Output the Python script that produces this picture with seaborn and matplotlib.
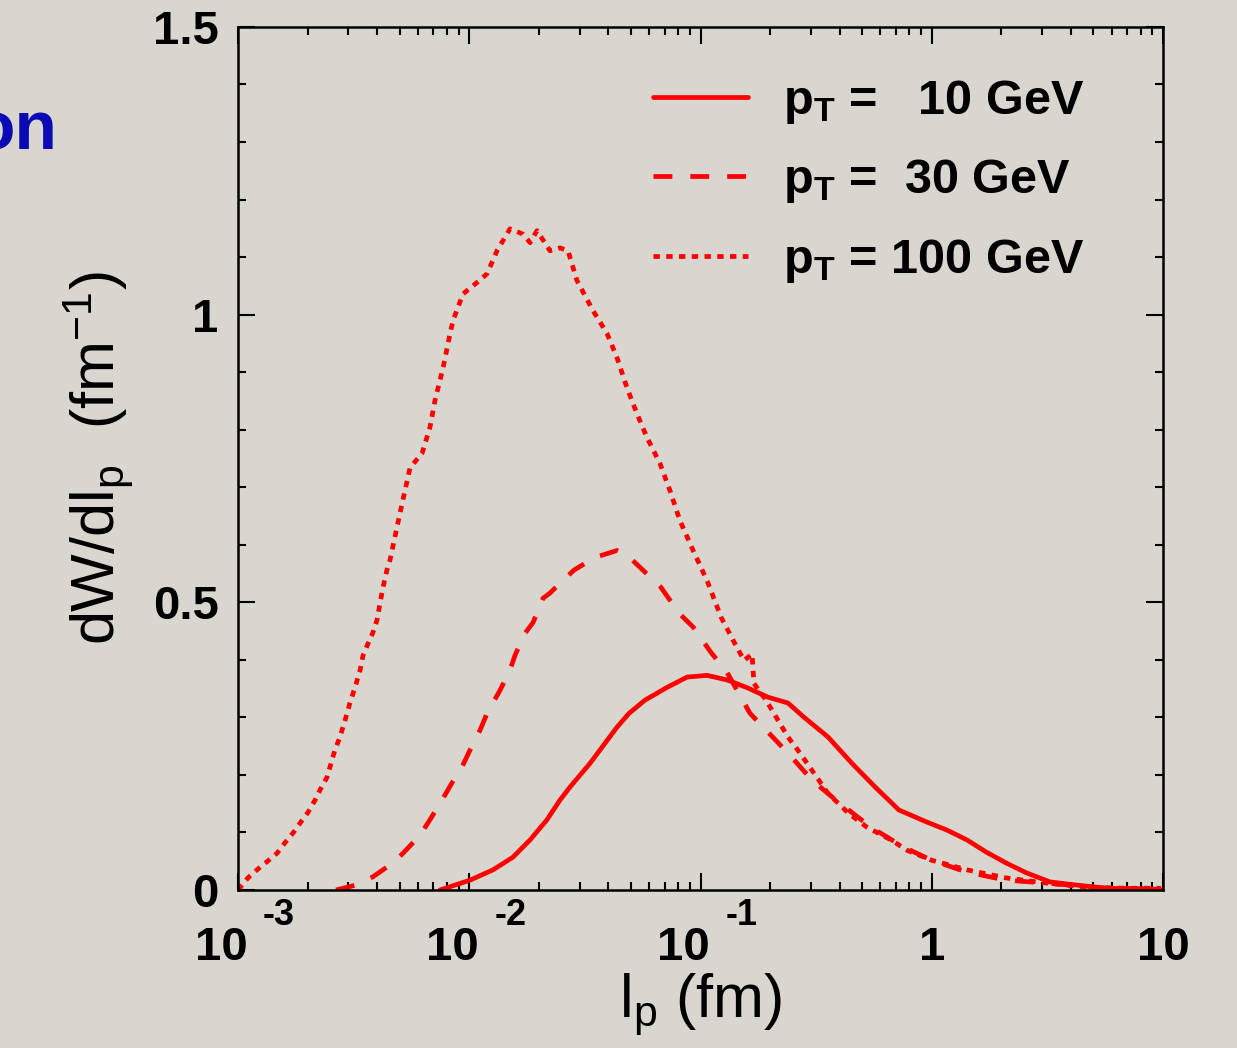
import numpy as np
import pandas as pd
import matplotlib
matplotlib.use("Agg")
import matplotlib.pyplot as plt
import seaborn as sns
from matplotlib.ticker import (MultipleLocator, LogLocator, FixedLocator,
                               NullFormatter, FixedFormatter)
from matplotlib.transforms import ScaledTranslation

# ---------------- data (x given as log10 of l_p in fm) ----------------
log_lp_10 = [-2.126, -1.997, -1.897, -1.811, -1.737, -1.664, -1.608, -1.564,
             -1.478, -1.361, -1.309, -1.240, -1.145, -1.058, -0.972, -0.885,
             -0.795, -0.708, -0.622, -0.552, -0.449, -0.345, -0.245, -0.142,
             -0.021, 0.066, 0.152, 0.235, 0.321, 0.408, 0.511, 0.615, 0.754, 1.0]
dw_10 = [0.0, 0.017, 0.035, 0.057, 0.087, 0.122, 0.156, 0.179,
         0.220, 0.283, 0.307, 0.330, 0.352, 0.370, 0.373, 0.365,
         0.351, 0.335, 0.325, 0.300, 0.266, 0.220, 0.179, 0.139,
         0.118, 0.104, 0.087, 0.066, 0.047, 0.030, 0.014, 0.009, 0.003, 0.001]

log_lp_30 = [-2.576, -2.485, -2.416, -2.330, -2.286, -2.213, -2.170, -2.118,
             -2.075, -2.031, -1.997, -1.953, -1.923, -1.867, -1.824, -1.802,
             -1.759, -1.724, -1.681, -1.651, -1.608, -1.547, -1.456, -1.361,
             -1.318, -1.257, -1.171, -1.093, -1.032, -0.955, -0.885, -0.786,
             -0.717, -0.622, -0.518, -0.414, -0.263, -0.124, -0.003, 0.152,
             0.321, 0.494, 0.754, 0.991]
dw_30 = [0.0, 0.009, 0.023, 0.047, 0.064, 0.095, 0.122, 0.156,
         0.186, 0.214, 0.243, 0.278, 0.307, 0.347, 0.382, 0.408,
         0.446, 0.465, 0.507, 0.516, 0.533, 0.556, 0.578, 0.590,
         0.582, 0.559, 0.526, 0.481, 0.457, 0.413, 0.378, 0.307,
         0.278, 0.238, 0.191, 0.156, 0.109, 0.075, 0.052, 0.031,
         0.017, 0.012, 0.003, 0.001]

log_lp_100 = [-3.0, -2.957, -2.918, -2.875, -2.831, -2.797, -2.762, -2.732,
              -2.697, -2.667, -2.645, -2.615, -2.602, -2.581, -2.559, -2.537,
              -2.516, -2.494, -2.472, -2.459, -2.438, -2.416, -2.399, -2.386,
              -2.373, -2.356, -2.343, -2.300, -2.256, -2.204, -2.170, -2.148,
              -2.113, -2.083, -2.070, -2.027, -1.966, -1.923, -1.880, -1.824,
              -1.768, -1.737, -1.707, -1.651, -1.608, -1.573, -1.534, -1.465,
              -1.404, -1.361, -1.318, -1.275, -1.231, -1.175, -1.132, -1.089,
              -1.032, -0.972, -0.911, -0.859, -0.812, -0.777, -0.769, -0.717,
              -0.665, -0.622, -0.570, -0.518, -0.449, -0.362, -0.280, -0.176,
              -0.107, -0.003, 0.152, 0.321, 0.494, 0.667, 0.836, 0.991]
dw_100 = [0.0, 0.021, 0.035, 0.049, 0.064, 0.082, 0.099, 0.116,
          0.135, 0.156, 0.174, 0.196, 0.214, 0.243, 0.266, 0.295,
          0.325, 0.352, 0.382, 0.408, 0.428, 0.448, 0.469, 0.498,
          0.526, 0.556, 0.573, 0.654, 0.734, 0.759, 0.804, 0.851,
          0.908, 0.967, 0.990, 1.036, 1.056, 1.071, 1.111, 1.149,
          1.140, 1.125, 1.146, 1.111, 1.116, 1.111, 1.059, 1.007,
          0.967, 0.925, 0.873, 0.828, 0.786, 0.741, 0.694, 0.642,
          0.590, 0.538, 0.474, 0.434, 0.399, 0.410, 0.359, 0.330,
          0.295, 0.266, 0.238, 0.208, 0.168, 0.134, 0.109, 0.087,
          0.069, 0.052, 0.035, 0.021, 0.012, 0.005, 0.003, 0.003]

series_labels = [r"p$_\mathbf{T}$ =   10 GeV",
                 r"p$_\mathbf{T}$ =  30 GeV",
                 r"p$_\mathbf{T}$ = 100 GeV"]
x_tick_vals = [1e-3, 1e-2, 1e-1, 1, 10]
x_tick_text = ["10", "10", "10", "1", "10"]
x_tick_exps = ["-3", "-2", "-1"]
y_tick_vals = [0, 0.5, 1, 1.5]
y_tick_text = ["0", "0.5", "1", "1.5"]

# ---------------- style ----------------
sns.set_theme(style="ticks")
plt.rcParams['font.family'] = ['Liberation Sans', 'DejaVu Sans']
plt.rcParams['font.weight'] = 'normal'
plt.rcParams['mathtext.fontset'] = 'custom'
plt.rcParams['mathtext.rm'] = 'Liberation Sans:weight=normal'
plt.rcParams['mathtext.it'] = 'Liberation Sans:italic'
plt.rcParams['mathtext.bf'] = 'Liberation Sans:weight=bold'
plt.rcParams['mathtext.sf'] = 'Liberation Sans'

bg = '#d9d6cf'
red = '#ff0000'
lw = 3.4
styles = ['-', (0, (4.0, 3.8)), (0, (1.35, 1.35))]

fig = plt.figure(figsize=(12.37, 10.48), dpi=100)
fig.patch.set_facecolor(bg)
ax = fig.add_axes([0.1924, 0.1508, 0.7478, 0.8235])
ax.set_facecolor(bg)

frames = []
for xs, ys, lab in [(log_lp_10, dw_10, series_labels[0]),
                    (log_lp_30, dw_30, series_labels[1]),
                    (log_lp_100, dw_100, series_labels[2])]:
    frames.append(pd.DataFrame({"lp": 10.0 ** np.asarray(xs), "dw": ys, "s": lab}))

for df, ls, lab in zip(frames, styles, series_labels):
    sns.lineplot(data=df, x="lp", y="dw", ax=ax, color=red, linewidth=lw,
                 linestyle=ls, estimator=None, sort=False, label=lab,
                 legend=False)

ax.set_xscale('log')
ax.set_xlim(1e-3, 10)
ax.set_ylim(0, 1.5)

ax.xaxis.set_major_locator(FixedLocator(x_tick_vals))
ax.xaxis.set_major_formatter(FixedFormatter(x_tick_text))
ax.xaxis.set_minor_locator(LogLocator(base=10, subs=np.arange(2, 10), numticks=100))
ax.xaxis.set_minor_formatter(NullFormatter())
ax.yaxis.set_major_locator(FixedLocator(y_tick_vals))
ax.yaxis.set_major_formatter(FixedFormatter(y_tick_text))
ax.yaxis.set_minor_locator(MultipleLocator(0.1))
ax.yaxis.set_minor_formatter(NullFormatter())

ax.tick_params(which='both', direction='in', top=True, right=True,
               width=1.5, color='black', labelcolor='black')
ax.tick_params(which='major', length=12, labelsize=34)
ax.tick_params(which='minor', length=6)
ax.tick_params(axis='x', which='major', pad=26)
ax.tick_params(axis='y', which='major', pad=14)
for sp in ax.spines.values():
    sp.set_linewidth(1.8)
    sp.set_color('black')

# shift the "10" bases left to leave room for the raised exponents
for i, t in enumerate(ax.xaxis.get_major_ticks()):
    t.label1.set_fontweight('bold')
    if i < 3:
        t.label1.set_transform(t.label1.get_transform() +
                               ScaledTranslation(-17 / 100, 0, fig.dpi_scale_trans))
for t in ax.yaxis.get_major_ticks():
    t.label1.set_fontweight('bold')

for val, e in zip(x_tick_vals[:3], x_tick_exps):
    ax.annotate(e, xy=(val, 0), xycoords=('data', 'axes fraction'),
                xytext=(29.5, -18.5), textcoords='offset points',
                ha='center', va='center', fontsize=26, fontweight='bold',
                color='black')

ax.set_xlabel(r"l$_\mathrm{p}$ (fm)", fontsize=44, fontweight='normal', color='black')
ax.set_ylabel(r"dW/dl$_\mathrm{p}$  (fm$^{-1}$)", fontsize=44, fontweight='normal',
              color='black')
ax.xaxis.label.set_va('center')
ax.yaxis.label.set_va('center')
ax.xaxis.set_label_coords(0.5, -0.133)
ax.yaxis.set_label_coords(-0.150, 0.5)

leg = ax.legend(loc='upper left', bbox_to_anchor=(0.4486, 0.941), frameon=False,
                fontsize=35, handlelength=1.95, handletextpad=0.72,
                labelspacing=0.65, borderaxespad=0, borderpad=0)
for txt in leg.get_texts():
    txt.set_fontweight('bold')
    txt.set_color('black')

fig.text(57 / 1237, 1 - 150 / 1048, "on", ha='right', va='baseline',
         fontsize=50, fontweight='bold', color='#0a0ab4')

fig.savefig("out.png", dpi=100, facecolor=bg)
